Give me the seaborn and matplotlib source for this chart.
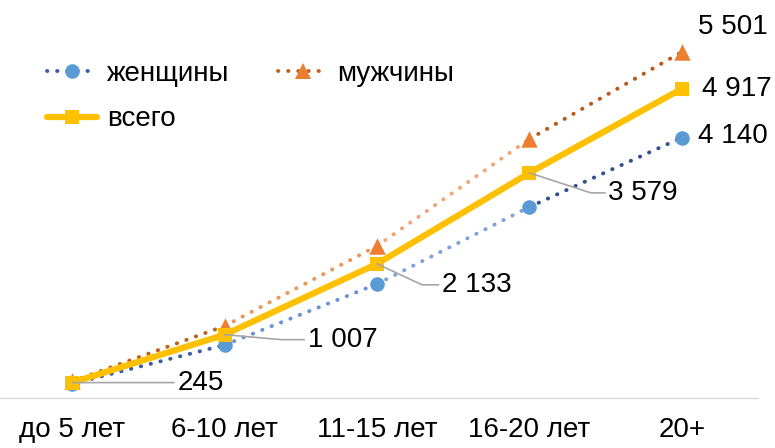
import matplotlib
matplotlib.use("Agg")
import matplotlib.pyplot as plt
import numpy as np
import pandas as pd
import seaborn as sns
from matplotlib.lines import Line2D

sns.set_style("white")
plt.rcParams["font.family"] = ["Liberation Sans", "DejaVu Sans"]
plt.rcParams["text.color"] = "black"
plt.rcParams["xtick.color"] = "black"

categories = ["до 5 лет", "6-10 лет", "11-15 лет", "16-20 лет", "20+"]
women = [225, 843, 1812, 3037, 4140]
men = [265, 1145, 2417, 4118, 5501]
total = [245, 1007, 2133, 3579, 4917]

# excel-style gradient on the dotted lines, one colour per segment
women_seg_colors = ["#3A5CA8", "#6A92D6", "#7FA2DD", "#30508F"]
men_seg_colors = ["#C0601F", "#EE9558", "#F2A575", "#B8581A"]
WOMEN_MARKER = "#5B9BD5"
MEN_MARKER = "#ED7D31"
TOTAL_COLOR = "#FFC000"
FS = 20

df = pd.DataFrame(
    {"pos": np.arange(len(categories)), "women": women, "men": men, "total": total}
)

fig = plt.figure(figsize=(7.75, 4.48), dpi=100)
ax = fig.add_axes([-4 / 775, 50 / 448, 762 / 775, 377.4 / 448])

dots = (0, (0.1, 2.5))
for i in range(len(categories) - 1):
    seg = df.iloc[i : i + 2]
    ax.plot(seg["pos"], seg["women"], color=women_seg_colors[i], lw=2.8,
            linestyle=dots, dash_capstyle="round", zorder=2)
    ax.plot(seg["pos"], seg["men"], color=men_seg_colors[i], lw=2.8,
            linestyle=dots, dash_capstyle="round", zorder=2)

sns.scatterplot(data=df, x="pos", y="women", marker="o", s=110, color=WOMEN_MARKER,
                linewidth=0, ax=ax, zorder=3)
sns.scatterplot(data=df, x="pos", y="men", marker="^", s=140, color=MEN_MARKER,
                linewidth=0, ax=ax, zorder=3)
sns.lineplot(data=df, x="pos", y="total", color=TOTAL_COLOR, lw=4.5, marker="s",
             markersize=10, markeredgewidth=0, ax=ax, zorder=4)

ax.set_xlim(-0.5, len(categories) - 0.5)
ax.set_ylim(0, 6000)
ax.set_xticks(df["pos"])
ax.set_xticklabels(categories, fontsize=FS)
ax.tick_params(axis="x", length=0, pad=13.5)
ax.set_yticks([])
ax.set_xlabel("")
ax.set_ylabel("")
for side in ["top", "right", "left"]:
    ax.spines[side].set_visible(False)
ax.spines["bottom"].set_color("#D9D9D9")
ax.spines["bottom"].set_linewidth(1.0)

# labels for "всего" with leader lines
leader = dict(arrowstyle="-", color="#A6A6A6", lw=1.2, shrinkA=0, shrinkB=0)
label_specs = [
    (0, (105, 0), "arc3"),
    (1, (83, -5), "angle,angleA=0,angleB=-5,rad=0"),
    (2, (65, -21), "angle,angleA=0,angleB=-25,rad=0"),
    (3, (79, -20), "angle,angleA=0,angleB=-18,rad=0"),
]
for i, off, conn in label_specs:
    ax.annotate(
        f"{total[i]:,}".replace(",", " "),
        xy=(df["pos"][i], total[i]),
        xytext=off,
        textcoords="offset pixels",
        ha="left",
        va="center",
        fontsize=FS,
        arrowprops=dict(leader, connectionstyle=conn),
        zorder=5,
    )

# end labels
ax.annotate(f"{total[-1]:,}".replace(",", " "), xy=(4, total[-1]), xytext=(20, 0),
            textcoords="offset pixels", ha="left", va="center", fontsize=FS)
ax.annotate(f"{women[-1]:,}".replace(",", " "), xy=(4, women[-1]), xytext=(16, 2),
            textcoords="offset pixels", ha="left", va="center", fontsize=FS)
ax.annotate(f"{men[-1]:,}".replace(",", " "), xy=(4, men[-1]), xytext=(16, 25),
            textcoords="offset pixels", ha="left", va="center", fontsize=FS)

handles = [
    Line2D([], [], color="#3A5CA8", lw=2.8, linestyle=dots, dash_capstyle="round",
           marker="o", markersize=10.5, markerfacecolor=WOMEN_MARKER, markeredgewidth=0),
    Line2D([], [], color=TOTAL_COLOR, lw=4.5, marker="s", markersize=10,
           markeredgewidth=0),
    Line2D([], [], color="#C0601F", lw=2.8, linestyle=dots, dash_capstyle="round",
           marker="^", markersize=11.5, markerfacecolor=MEN_MARKER, markeredgewidth=0),
]
fig.legend(
    handles,
    ["женщины", "всего", "мужчины"],
    ncol=2,
    loc="upper left",
    bbox_to_anchor=(47 / 775, 1 - 61 / 448),
    frameon=False,
    fontsize=FS,
    borderpad=0,
    borderaxespad=0,
    handlelength=1.8,
    handletextpad=0.35,
    columnspacing=1.75,
    labelspacing=0.7,
    numpoints=1,
)

fig.savefig("out.png", dpi=100)
